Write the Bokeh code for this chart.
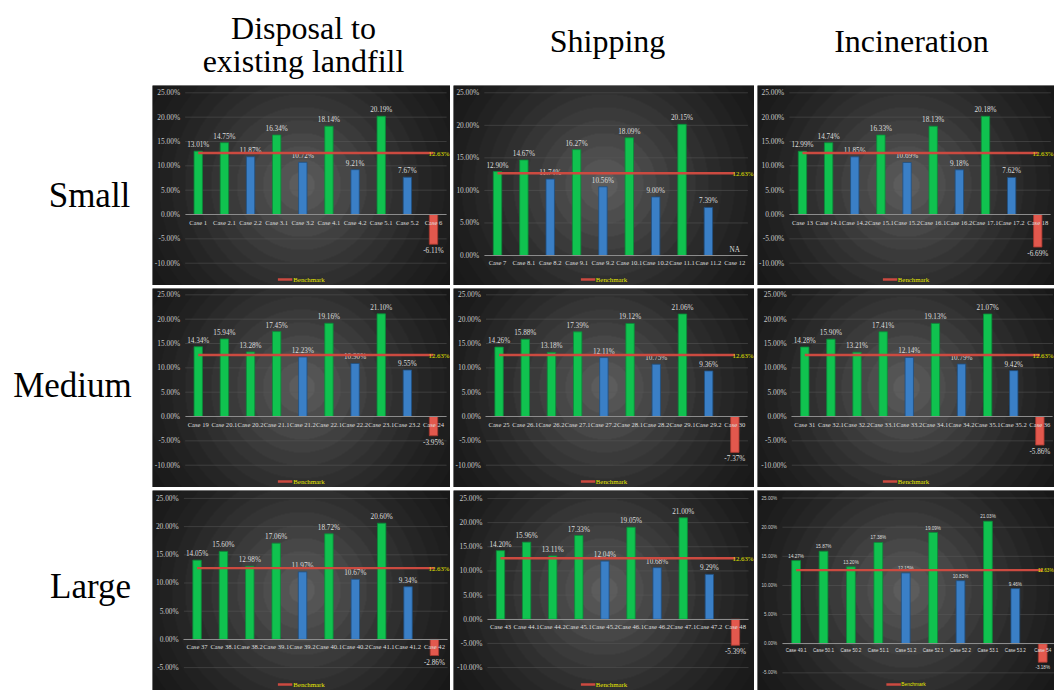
import numpy as np
from bokeh.plotting import figure
from bokeh.models import (ColumnDataSource, LinearAxis, FixedTicker, PrintfTickFormatter,
                          Range1d, Legend, LegendItem)
from bokeh.layouts import row, column
from bokeh.core.properties import value
from bokeh.embed import file_html
from bokeh.resources import INLINE

# ---------------- data ----------------
BENCHMARK = 12.63
COL_TITLES = [["Disposal to", "existing landfill"], ["Shipping"], ["Incineration"]]
ROW_LABELS = ["Small", "Medium", "Large"]

cases_1 = ["Case 1", "Case 2.1", "Case 2.2", "Case 3.1", "Case 3.2", "Case 4.1", "Case 4.2", "Case 5.1", "Case 5.2", "Case 6"]
vals_1 = [13.01, 14.75, 11.87, 16.34, 10.72, 18.14, 9.21, 20.19, 7.67, -6.11]

cases_2 = ["Case 7", "Case 8.1", "Case 8.2", "Case 9.1", "Case 9.2", "Case 10.1", "Case 10.2", "Case 11.1", "Case 11.2", "Case 12"]
vals_2 = [12.90, 14.67, 11.74, 16.27, 10.56, 18.09, 9.00, 20.15, 7.39, None]

cases_3 = ["Case 13", "Case 14.1", "Case 14.2", "Case 15.1", "Case 15.2", "Case 16.1", "Case 16.2", "Case 17.1", "Case 17.2", "Case 18"]
vals_3 = [12.99, 14.74, 11.85, 16.33, 10.69, 18.13, 9.18, 20.18, 7.62, -6.69]

cases_4 = ["Case 19", "Case 20.1", "Case 20.2", "Case 21.1", "Case 21.2", "Case 22.1", "Case 22.2", "Case 23.1", "Case 23.2", "Case 24"]
vals_4 = [14.34, 15.94, 13.28, 17.45, 12.23, 19.16, 10.90, 21.10, 9.55, -3.95]

cases_5 = ["Case 25", "Case 26.1", "Case 26.2", "Case 27.1", "Case 27.2", "Case 28.1", "Case 28.2", "Case 29.1", "Case 29.2", "Case 30"]
vals_5 = [14.26, 15.88, 13.18, 17.39, 12.11, 19.12, 10.75, 21.06, 9.36, -7.37]

cases_6 = ["Case 31", "Case 32.1", "Case 32.2", "Case 33.1", "Case 33.2", "Case 34.1", "Case 34.2", "Case 35.1", "Case 35.2", "Case 36"]
vals_6 = [14.28, 15.90, 13.21, 17.41, 12.14, 19.13, 10.79, 21.07, 9.42, -5.86]

cases_7 = ["Case 37", "Case 38.1", "Case 38.2", "Case 39.1", "Case 39.2", "Case 40.1", "Case 40.2", "Case 41.1", "Case 41.2", "Case 42"]
vals_7 = [14.05, 15.60, 12.98, 17.06, 11.97, 18.72, 10.67, 20.60, 9.34, -2.86]

cases_8 = ["Case 43", "Case 44.1", "Case 44.2", "Case 45.1", "Case 45.2", "Case 46.1", "Case 46.2", "Case 47.1", "Case 47.2", "Case 48"]
vals_8 = [14.20, 15.96, 13.11, 17.33, 12.04, 19.05, 10.68, 21.00, 9.29, -5.39]

cases_9 = ["Case 49.1", "Case 50.1", "Case 50.2", "Case 51.1", "Case 51.2", "Case 52.1", "Case 52.2", "Case 53.1", "Case 53.2", "Case 54"]
vals_9 = [14.27, 15.87, 13.20, 17.38, 12.15, 19.09, 10.82, 21.03, 9.46, -3.18]

yticks_1 = [-10, -5, 0, 5, 10, 15, 20, 25]
yticks_2 = [0, 5, 10, 15, 20, 25]
yticks_3 = [-5, 0, 5, 10, 15, 20, 25]

# ---------------- layout / style ----------------
COL_W = [298, 301, 297]
ROW_H = [200, 199, 200]
LEFT_W = 152
TOP_H = 85
GAP = 3

# (x_range, y_range) per panel, in category / percent units
PANEL_VIEW = [
    [((-1.75, 9.65), (-14.58, 26.5)), ((-1.67, 9.75), (-4.61, 26.12)), ((-1.72, 9.64), (-14.58, 26.5))],
    [((-1.75, 9.65), (-14.58, 26.3)), ((-1.74, 9.75), (-14.58, 26.3)), ((-1.81, 9.56), (-14.58, 26.3))],
    [((-1.69, 9.61), (-9.06, 26.4)), ((-1.80, 9.73), (-14.75, 26.65)), ((-1.41, 9.43), (-8.03, 26.3))],
]
PANEL_DATA = [
    [(cases_1, vals_1, yticks_1), (cases_2, vals_2, yticks_2), (cases_3, vals_3, yticks_1)],
    [(cases_4, vals_4, yticks_1), (cases_5, vals_5, yticks_1), (cases_6, vals_6, yticks_1)],
    [(cases_7, vals_7, yticks_3), (cases_8, vals_8, yticks_1), (cases_9, vals_9, yticks_3)],
]

GREEN, GREEN_LINE = "#10c24f", "#0a8a38"
BLUE, BLUE_LINE = "#3a7fc6", "#1f4f80"
RED, RED_LINE = "#e2584d", "#a8392f"
BENCH_COLOR = "#cc4a40"
BENCH_TEXT = "#e8e800"
LABEL_COLOR = "#dedede"
TICK_COLOR = "#c8c8c8"


def radial_bg(w, h):
    yy, xx = np.mgrid[0:h, 0:w]
    cx, cy = w / 2.0, h / 2.0
    d = np.hypot(xx - cx, yy - cy)
    step = 13.0
    ring = np.floor(d / step) * step
    rmax = np.hypot(cx, cy)
    t = np.clip(1.0 - ring / rmax, 0, 1)
    g = (24 + 68 * t ** 1.5).astype(np.uint8)
    img = np.empty((h, w), dtype=np.uint32)
    v = img.view(dtype=np.uint8).reshape((h, w, 4))
    v[..., 0] = g
    v[..., 1] = g
    v[..., 2] = g
    v[..., 3] = 255
    return img


def make_panel(cases, vals, yticks, xr, yr, w, h, sans=False):
    fam = "Liberation Sans" if sans else "Liberation Serif"
    font = value(fam)
    fs_tick = "4.6px" if sans else "7.4px"
    fs_cat = "4.6px" if sans else "6.6px"
    fs_lab = "4.6px" if sans else "7.2px"
    fs_leg = "4.8px" if sans else "6.8px"
    fs_bench = "4.6px" if sans else "6.8px"

    p = figure(width=w, height=h, output_backend="svg", toolbar_location=None,
               x_axis_type=None, y_axis_type=None,
               x_range=Range1d(*xr), y_range=Range1d(*yr),
               min_border=0, min_border_left=0, min_border_right=0,
               min_border_top=0, min_border_bottom=0,
               background_fill_color="#222222", border_fill_color="#222222")
    p.grid.visible = False
    p.outline_line_color = "#8a8a8a" if sans else None

    # background
    p.image_rgba(image=[radial_bg(w, h)], x=xr[0], y=yr[0], dw=xr[1] - xr[0], dh=yr[1] - yr[0])

    n = len(cases)
    idx = list(range(n))

    # gridlines
    p.segment(x0=[-0.5] * len(yticks), x1=[n - 0.5] * len(yticks), y0=yticks, y1=yticks,
              line_color="#5a5a5a", line_width=0.7, line_alpha=0.7)

    # bars
    bx, bt, bc, bl = [], [], [], []
    for i, v in zip(idx, vals):
        if v is None:
            continue
        bx.append(i)
        bt.append(v)
        if v < 0:
            bc.append(RED); bl.append(RED_LINE)
        elif v >= BENCHMARK:
            bc.append(GREEN); bl.append(GREEN_LINE)
        else:
            bc.append(BLUE); bl.append(BLUE_LINE)
    src = ColumnDataSource(dict(x=bx, top=bt, fill=bc, line=bl))
    p.vbar(x="x", top="top", bottom=0, width=0.32, fill_color="fill", line_color="line",
           line_width=0.8, source=src)

    # data labels
    pos = ColumnDataSource(dict(x=[x for x, t in zip(bx, bt) if t >= 0],
                                y=[t for t in bt if t >= 0],
                                t=["%.2f%%" % t for t in bt if t >= 0]))
    neg = ColumnDataSource(dict(x=[x for x, t in zip(bx, bt) if t < 0],
                                y=[t for t in bt if t < 0],
                                t=["%.2f%%" % t for t in bt if t < 0]))
    p.text(x="x", y="y", text="t", source=pos, text_align="center", text_baseline="bottom",
           y_offset=-2, text_font=font, text_font_size=fs_lab, text_color=LABEL_COLOR)
    p.text(x="x", y="y", text="t", source=neg, text_align="center", text_baseline="top",
           y_offset=3, text_font=font, text_font_size=fs_lab, text_color=LABEL_COLOR)
    na = [i for i, v in zip(idx, vals) if v is None]
    if na:
        p.text(x=na, y=[0] * len(na), text=["NA"] * len(na), text_align="center",
               text_baseline="bottom", y_offset=-1, text_font=font, text_font_size=fs_lab,
               text_color=LABEL_COLOR)

    # benchmark
    bench = p.line(x=[0, n - 1], y=[BENCHMARK, BENCHMARK], line_color=BENCH_COLOR, line_width=2.4)
    p.text(x=[xr[1]], y=[BENCHMARK], text=["%.2f%%" % BENCHMARK], x_offset=-1,
           text_align="right", text_baseline="middle", text_font=font,
           text_font_size=fs_bench, text_color=BENCH_TEXT)

    # axes
    xa = LinearAxis(fixed_location=0, ticker=FixedTicker(ticks=idx),
                    major_label_overrides={i: c for i, c in zip(idx, cases)},
                    bounds=(-0.5, n - 0.5))
    xa.axis_line_color = "#8c8c8c"
    xa.axis_line_width = 1
    xa.major_tick_line_color = None
    xa.minor_tick_line_color = None
    xa.major_tick_out = 0
    xa.major_tick_in = 0
    xa.major_label_standoff = 4
    xa.major_label_text_font = fam
    xa.major_label_text_font_size = fs_cat
    xa.major_label_text_color = LABEL_COLOR
    p.add_layout(xa, "below")

    ya = LinearAxis(fixed_location=-0.62, ticker=FixedTicker(ticks=yticks),
                    formatter=PrintfTickFormatter(format="%.2f%%"))
    ya.axis_line_color = None
    ya.major_tick_line_color = None
    ya.minor_tick_line_color = None
    ya.major_tick_out = 0
    ya.major_tick_in = 0
    ya.major_label_standoff = 2
    ya.major_label_text_font = fam
    ya.major_label_text_font_size = fs_tick
    ya.major_label_text_color = TICK_COLOR
    p.add_layout(ya, "left")

    leg = Legend(items=[LegendItem(label="Benchmark", renderers=[bench])],
                 location="bottom_center", orientation="horizontal",
                 margin=2, padding=1, spacing=0, glyph_width=15, glyph_height=8,
                 label_height=8, label_standoff=1,
                 background_fill_alpha=0, border_line_color=None,
                 label_text_font=fam,
                 label_text_font_size=fs_leg, label_text_color=BENCH_TEXT)
    p.add_layout(leg)
    return p


# ---------------- header and row labels ----------------
total_w = LEFT_W + sum(COL_W) + 2 * GAP
top = figure(width=total_w, height=TOP_H, output_backend="svg", toolbar_location=None,
             x_axis_type=None, y_axis_type=None,
             x_range=Range1d(0, total_w), y_range=Range1d(TOP_H, 0),
             min_border=0, outline_line_color=None, background_fill_color="white",
             border_fill_color="white")
top.grid.visible = False
title_x = [303, 607, 911]
title_y = [[27, 60], [40], [40]]
for lines, tx, tys in zip(COL_TITLES, title_x, title_y):
    top.text(x=[tx] * len(lines), y=tys, text=lines, text_align="center",
             text_baseline="middle", text_font=value("Liberation Serif"),
             text_font_size="32px", text_color="black")

left_h = sum(ROW_H) + 2 * GAP
left = figure(width=LEFT_W, height=left_h, output_backend="svg", toolbar_location=None,
              x_axis_type=None, y_axis_type=None,
              x_range=Range1d(0, LEFT_W), y_range=Range1d(left_h, 0),
              min_border=0, outline_line_color=None, background_fill_color="white",
              border_fill_color="white")
left.grid.visible = False
left.text(x=[89, 72, 90], y=[110, 300, 501], text=ROW_LABELS, text_align="center",
          text_baseline="middle", text_font=value("Liberation Serif"),
          text_font_size="35px", text_color="black")

rows = []
for r in range(3):
    figs = []
    for c in range(3):
        cases, vals, yt = PANEL_DATA[r][c]
        xr, yr = PANEL_VIEW[r][c]
        figs.append(make_panel(cases, vals, yt, xr, yr, COL_W[c], ROW_H[r], sans=(r == 2 and c == 2)))
    rows.append(row(*figs, spacing=GAP))
grid = column(*rows, spacing=GAP)
layout = column(top, row(left, grid))

open("out.html", "w").write(file_html(layout, INLINE))
